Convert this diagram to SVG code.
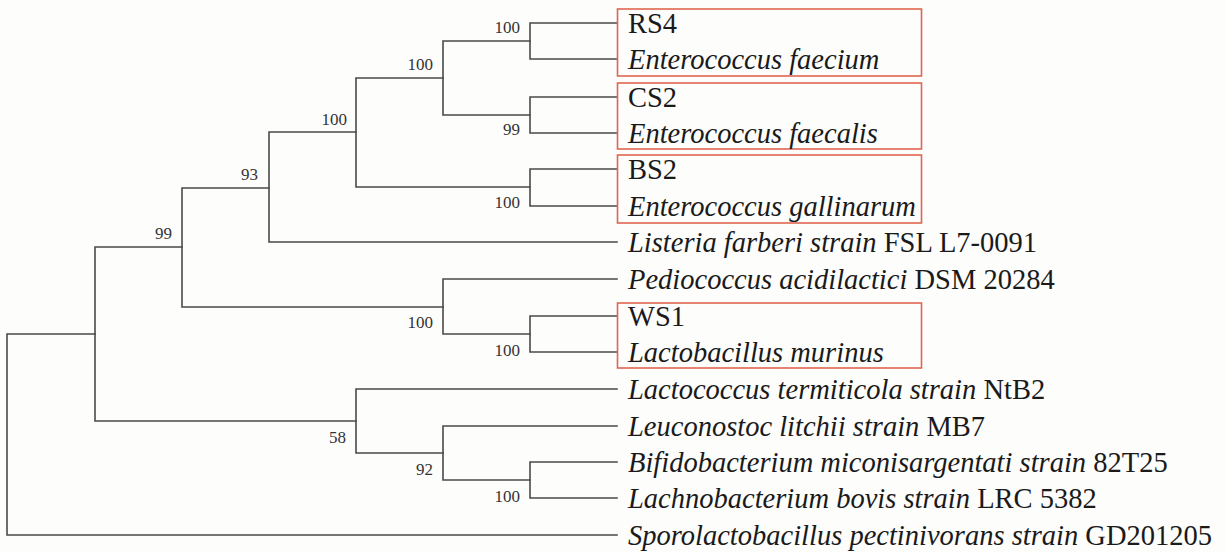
<svg xmlns="http://www.w3.org/2000/svg" width="1226" height="552" viewBox="0 0 1226 552">
<style>
.br{fill:none;stroke:#4a4a4a;stroke-width:1.6;stroke-linecap:square}
.box{fill:none;stroke:#e06650;stroke-width:1.6}
.lf{font-family:"Liberation Serif","Times New Roman",serif;font-size:28.5px;fill:#1a1a1a}
.it{font-style:italic}
.bs{font-family:"Liberation Serif","Times New Roman",serif;font-size:17px;fill:#333;text-anchor:end}
</style>
<rect width="1226" height="552" fill="#fdfdfc"/>
<g id="connectors">
<path class="br" d="M7,334V535M7,334H95M7,535H617"/>
<path class="br" d="M95,247V421M95,247H182M95,421H356"/>
<path class="br" d="M182,188V307M182,188H269M182,307H443"/>
<path class="br" d="M269,132V242M269,132H356M269,242H617"/>
<path class="br" d="M356,78V187M356,78H443M356,187H530"/>
<path class="br" d="M443,41V115M443,41H530M443,115H530"/>
<path class="br" d="M530,23V59M530,23H617M530,59H617"/>
<path class="br" d="M530,97V133M530,97H617M530,133H617"/>
<path class="br" d="M530,169V206M530,169H617M530,206H617"/>
<path class="br" d="M443,279V334M443,279H617M443,334H530"/>
<path class="br" d="M530,316V352M530,316H617M530,352H617"/>
<path class="br" d="M356,389V453M356,389H617M356,453H443"/>
<path class="br" d="M443,426V480M443,426H617M443,480H530"/>
<path class="br" d="M530,462V498M530,462H617M530,498H617"/>
</g>
<g id="bootstrap">
<text class="bs" x="520" y="33">100</text>
<text class="bs" x="433" y="70">100</text>
<text class="bs" x="520" y="135">99</text>
<text class="bs" x="520" y="208">100</text>
<text class="bs" x="347" y="125">100</text>
<text class="bs" x="258" y="180">93</text>
<text class="bs" x="172" y="239">99</text>
<text class="bs" x="433" y="328">100</text>
<text class="bs" x="520" y="356">100</text>
<text class="bs" x="346" y="443">58</text>
<text class="bs" x="433" y="475">92</text>
<text class="bs" x="520" y="502">100</text>
</g>
<g id="node-RS4">
<rect class="box" x="617.5" y="9" width="304" height="67"/>
<text class="lf" x="628" y="33">RS4</text>
<text class="lf it" x="628" y="69">Enterococcus faecium</text>
</g>
<g id="node-CS2">
<rect class="box" x="617.5" y="83" width="304" height="66"/>
<text class="lf" x="628" y="107">CS2</text>
<text class="lf it" x="628" y="143">Enterococcus faecalis</text>
</g>
<g id="node-BS2">
<rect class="box" x="617.5" y="155" width="304" height="68"/>
<text class="lf" x="628" y="179">BS2</text>
<text class="lf it" x="628" y="216">Enterococcus gallinarum</text>
</g>
<g id="node-listeria">
<text class="lf" x="628" y="252"><tspan class="it">Listeria farberi strain</tspan> FSL L7-0091</text>
</g>
<g id="node-pediococcus">
<text class="lf" x="628" y="289"><tspan class="it">Pediococcus acidilactici</tspan> DSM 20284</text>
</g>
<g id="node-WS1">
<rect class="box" x="617.5" y="303" width="304" height="65"/>
<text class="lf" x="628" y="326">WS1</text>
<text class="lf it" x="628" y="362">Lactobacillus murinus</text>
</g>
<g id="node-lactococcus">
<text class="lf" x="628" y="399"><tspan class="it">Lactococcus termiticola strain</tspan> NtB2</text>
</g>
<g id="node-leuconostoc">
<text class="lf" x="628" y="436"><tspan class="it">Leuconostoc litchii strain</tspan> MB7</text>
</g>
<g id="node-bifidobacterium">
<text class="lf" x="628" y="472"><tspan class="it">Bifidobacterium miconisargentati strain</tspan> 82T25</text>
</g>
<g id="node-lachnobacterium">
<text class="lf" x="628" y="508"><tspan class="it">Lachnobacterium bovis strain</tspan> LRC 5382</text>
</g>
<g id="node-sporolactobacillus">
<text class="lf" x="628" y="545"><tspan class="it">Sporolactobacillus pectinivorans strain</tspan> GD201205</text>
</g>
</svg>
